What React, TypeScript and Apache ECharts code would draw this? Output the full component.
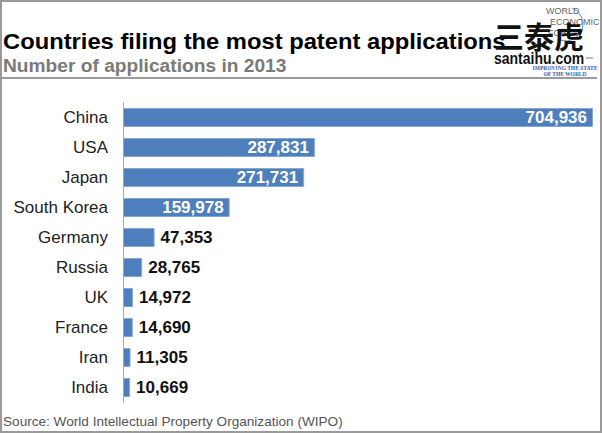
import React, { useEffect, useRef } from 'react';
import * as echarts from 'echarts';

const countries = ['China', 'USA', 'Japan', 'South Korea', 'Germany', 'Russia', 'UK', 'France', 'Iran', 'India'];
const applications = [704936, 287831, 271731, 159978, 47353, 28765, 14972, 14690, 11305, 10669];
const titleText = 'Countries filing the most patent applications';
const subtitleText = 'Number of applications in 2013';
const sourceText = 'Source: World Intellectual Property Organization (WIPO)';
const insideThreshold = 100000;

const FONT = '"Liberation Sans", Arial, Helvetica, sans-serif';

export default function App() {
  const ref = useRef<HTMLDivElement>(null);

  useEffect(() => {
    document.body.style.margin = '0';
    if (!ref.current) return;
    const chart = echarts.init(ref.current, undefined, { renderer: 'svg' });
    const fmt = (v: number) => v.toLocaleString('en-US');
    const data = applications.map((v) => {
      const inside = v >= insideThreshold;
      return {
        value: v,
        label: {
          show: true,
          position: inside ? 'insideRight' : 'right',
          distance: 6,
          color: inside ? '#ffffff' : '#111111',
          fontWeight: 'bold',
          fontSize: 17,
          fontFamily: FONT,
          formatter: (p: any) => fmt(p.value),
        },
      };
    });

    chart.setOption({
      animation: false,
      backgroundColor: '#ffffff',
      grid: { left: 123, top: 102.5, width: 470, height: 300, containLabel: false },
      xAxis: {
        type: 'value',
        min: 0,
        max: Math.max(...applications),
        show: false,
      },
      yAxis: {
        type: 'category',
        inverse: true,
        data: countries,
        axisLine: { show: true, lineStyle: { color: '#aaaaaa', width: 1 } },
        axisTick: { show: false },
        splitLine: { show: false },
        axisLabel: { fontSize: 17, color: '#222222', margin: 15, fontFamily: FONT },
      },
      series: [
        {
          type: 'bar',
          data,
          barWidth: 19,
          itemStyle: { color: '#4e7fbd', borderColor: '#86a7d4', borderWidth: 1 },
        },
      ],
      graphic: [
        {
          type: 'rect',
          shape: { x: 1, y: 1, width: 600, height: 431 },
          style: { fill: 'none', stroke: '#9a9a9a', lineWidth: 2 },
          silent: true,
        },
        {
          type: 'line',
          shape: { x1: 2, y1: 78, x2: 597, y2: 78 },
          style: { stroke: '#9a9a9a', lineWidth: 2 },
        },
        {
          type: 'text',
          x: 3,
          y: 41.5,
          scaleX: 1.08,
          style: { text: titleText, fill: '#000000', fontSize: 22, fontWeight: 'bold', fontFamily: FONT, verticalAlign: 'middle' },
        },
        {
          type: 'text',
          x: 3,
          y: 65.5,
          scaleX: 1.01,
          style: { text: subtitleText, fill: '#7a7a7a', fontSize: 19, fontWeight: 'bold', fontFamily: FONT, verticalAlign: 'middle' },
        },
        {
          type: 'text',
          x: 3,
          y: 421,
          style: { text: sourceText, fill: '#555555', fontSize: 13.6, fontFamily: FONT, verticalAlign: 'middle' },
        },
        // WEF logo text (faint, behind watermark)
        {
          type: 'text',
          x: 546,
          y: 11,
          style: { text: 'WORLD', fill: '#666666', fontSize: 9, fontFamily: FONT, verticalAlign: 'middle' },
        },
        {
          type: 'text',
          x: 550,
          y: 22,
          style: { text: 'ECONOMIC', fill: '#666666', fontSize: 9, fontFamily: FONT, verticalAlign: 'middle' },
        },
        {
          type: 'text',
          x: 548,
          y: 33,
          style: { text: 'FORUM', fill: '#666666', fontSize: 9, fontFamily: FONT, verticalAlign: 'middle' },
        },
        {
          type: 'arc',
          shape: { cx: 566, cy: 24, r: 17, startAngle: -1.2, endAngle: 1.9 },
          style: { stroke: '#5b8fd0', lineWidth: 1, fill: 'none' },
        },
        {
          type: 'text',
          x: 494,
          y: 35,
          style: { text: '三泰虎', fill: '#111111', fontSize: 30, fontWeight: 'bold', fontFamily: '"Noto Sans CJK SC", sans-serif', verticalAlign: 'middle' },
        },
        {
          type: 'text',
          x: 494,
          y: 58,
          scaleY: 1.2,
          style: { text: 'santaihu.com', fill: '#111111', fontSize: 14, fontWeight: 'bold', fontFamily: FONT, verticalAlign: 'middle' },
        },
        {
          type: 'line',
          shape: { x1: 586, y1: 58, x2: 593, y2: 58 },
          style: { stroke: '#777777', lineWidth: 1 },
        },
        {
          type: 'text',
          x: 565,
          y: 68,
          style: { text: 'IMPROVING THE STATE', fill: '#2f62b0', fontSize: 5.5, fontWeight: 'bold', fontFamily: '"Liberation Serif", serif', align: 'center', verticalAlign: 'middle' },
        },
        {
          type: 'text',
          x: 565,
          y: 74,
          style: { text: 'OF THE WORLD', fill: '#2f62b0', fontSize: 5.5, fontWeight: 'bold', fontFamily: '"Liberation Serif", serif', align: 'center', verticalAlign: 'middle' },
        },
      ],
    });
    return () => chart.dispose();
  }, []);

  return <div ref={ref} style={{ width: 602, height: 433, position: 'absolute', left: 0, top: 0 }} />;
}
